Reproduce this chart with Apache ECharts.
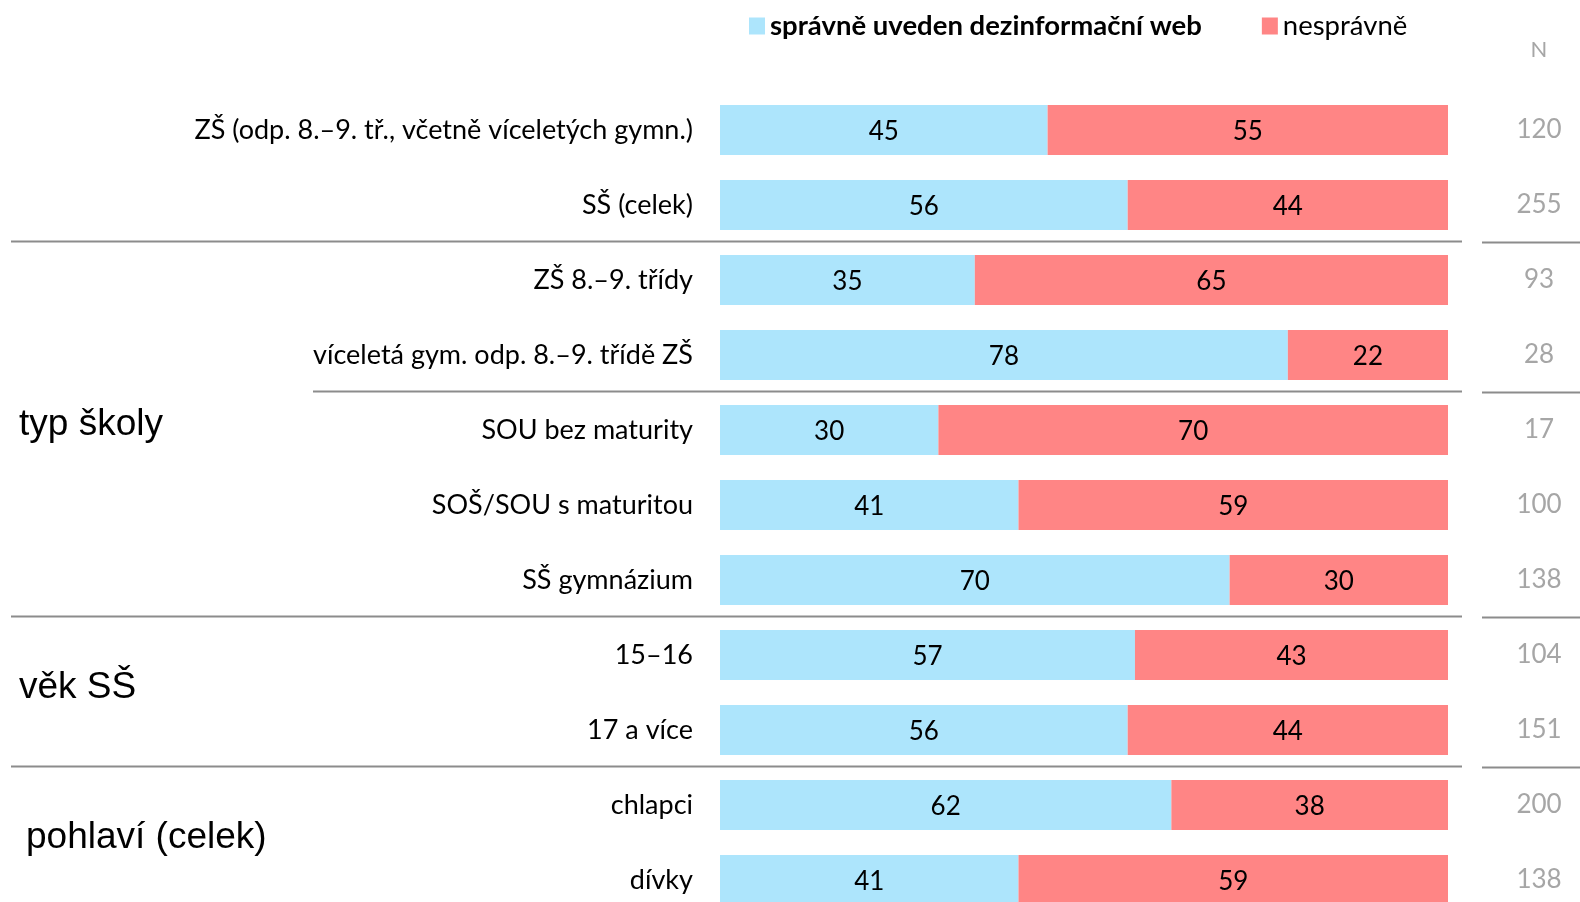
<!DOCTYPE html>
<html>
<head>
<meta charset="utf-8">
<style>
  html, body { margin: 0; padding: 0; background: #fff; }
  #main { width: 1580px; height: 902px; }
</style>
<script src="https://cdn.jsdelivr.net/npm/echarts@6/dist/echarts.min.js"></script>
</head>
<body>
<div id="main"></div>
<script>
// kategorie (shora dolů)
var categories = [
    'ZŠ (odp. 8.–9. tř., včetně víceletých gymn.)',
    'SŠ (celek)',
    'ZŠ 8.–9. třídy',
    'víceletá gym. odp. 8.–9. třídě ZŠ',
    'SOU bez maturity',
    'SOŠ/SOU s maturitou',
    'SŠ gymnázium',
    '15–16',
    '17 a více',
    'chlapci',
    'dívky'
];
var correct = [45, 56, 35, 78, 30, 41, 70, 57, 56, 62, 41];
var wrong = [55, 44, 65, 22, 70, 59, 30, 43, 44, 38, 59];
var nValues = ['120', '255', '93', '28', '17', '100', '138', '104', '151', '200', '138'];
// skupiny: název, první a poslední řádek
var groups = [
    ['typ školy', 2, 6],
    ['věk SŠ', 7, 8],
    ['pohlaví (celek)', 9, 10]
];
// oddělovače za řádkem, levý okraj čáry
var separators = [[1, 11], [3, 313], [6, 11], [8, 11]];

var font = 'Lato, "Open Sans", sans-serif';
var chart = echarts.init(document.getElementById('main'));

var option = {
    animation: false,
    legend: {
        left: 744,
        top: 7,
        itemWidth: 16,
        itemHeight: 17,
        itemGap: 60,
        icon: 'rect',
        textStyle: { fontFamily: font, fontSize: 27.5, color: '#000' },
        data: [
            { name: 'správně uveden dezinformační web', textStyle: { fontWeight: 'bold' } },
            { name: 'nesprávně' }
        ]
    },
    grid: {
        left: 720,
        right: 132,
        top: 92.5,
        height: 825,
        outerBoundsMode: 'none'
    },
    xAxis: {
        type: 'value',
        min: 0,
        max: 100,
        show: false
    },
    yAxis: [{
        type: 'category',
        inverse: true,
        data: categories,
        axisLine: { show: false },
        axisTick: { show: false },
        axisLabel: { margin: 27, fontFamily: font, fontSize: 27, color: '#000' }
    }, {
        type: 'category',
        inverse: true,
        position: 'right',
        data: nValues,
        axisLine: { show: false },
        axisTick: { show: false },
        axisLabel: { margin: 91, align: 'center', fontFamily: font, fontSize: 26, color: '#a6a6a6' }
    }],
    series: [{
        name: 'správně uveden dezinformační web',
        type: 'bar',
        stack: 'a',
        barWidth: 50,
        itemStyle: { color: '#ade5fc' },
        label: { show: true, position: 'inside', offset: [0, 2], fontFamily: font, fontSize: 26, color: '#000' },
        data: correct
    }, {
        name: 'nesprávně',
        type: 'bar',
        stack: 'a',
        barWidth: 50,
        itemStyle: { color: '#ff8585' },
        label: { show: true, position: 'inside', offset: [0, 2], fontFamily: font, fontSize: 26, color: '#000' },
        data: wrong
    }]
};
chart.setOption(option);

function rowY(i) {
    return chart.convertToPixel({ yAxisIndex: 0 }, categories[i]);
}

var elements = [];
separators.forEach(function (s) {
    var y = Math.round((rowY(s[0]) + rowY(s[0] + 1)) / 2) - 1.5;
    elements.push({
        type: 'line', shape: { x1: s[1], y1: y, x2: 1462, y2: y },
        style: { stroke: '#8c8c8c', lineWidth: 2 }
    });
    elements.push({
        type: 'line', shape: { x1: 1482, y1: y + 1, x2: 1580, y2: y + 1 },
        style: { stroke: '#8c8c8c', lineWidth: 2 }
    });
});
groups.forEach(function (g) {
    var y = (rowY(g[1]) + rowY(g[2])) / 2 - 5;
    elements.push({
        type: 'text', x: g[0] === 'pohlaví (celek)' ? 26 : 19, y: y,
        style: {
            text: g[0], fontFamily: 'Liberation Sans, Arial, sans-serif', fontSize: 37,
            fill: '#000', verticalAlign: 'middle', align: 'left'
        }
    });
});
elements.push({
    type: 'text', x: 1539, y: 50,
    style: { text: 'N', fontFamily: font, fontSize: 22, fill: '#a6a6a6', align: 'center', verticalAlign: 'middle' }
});
chart.setOption({ graphic: elements });
</script>
</body>
</html>
